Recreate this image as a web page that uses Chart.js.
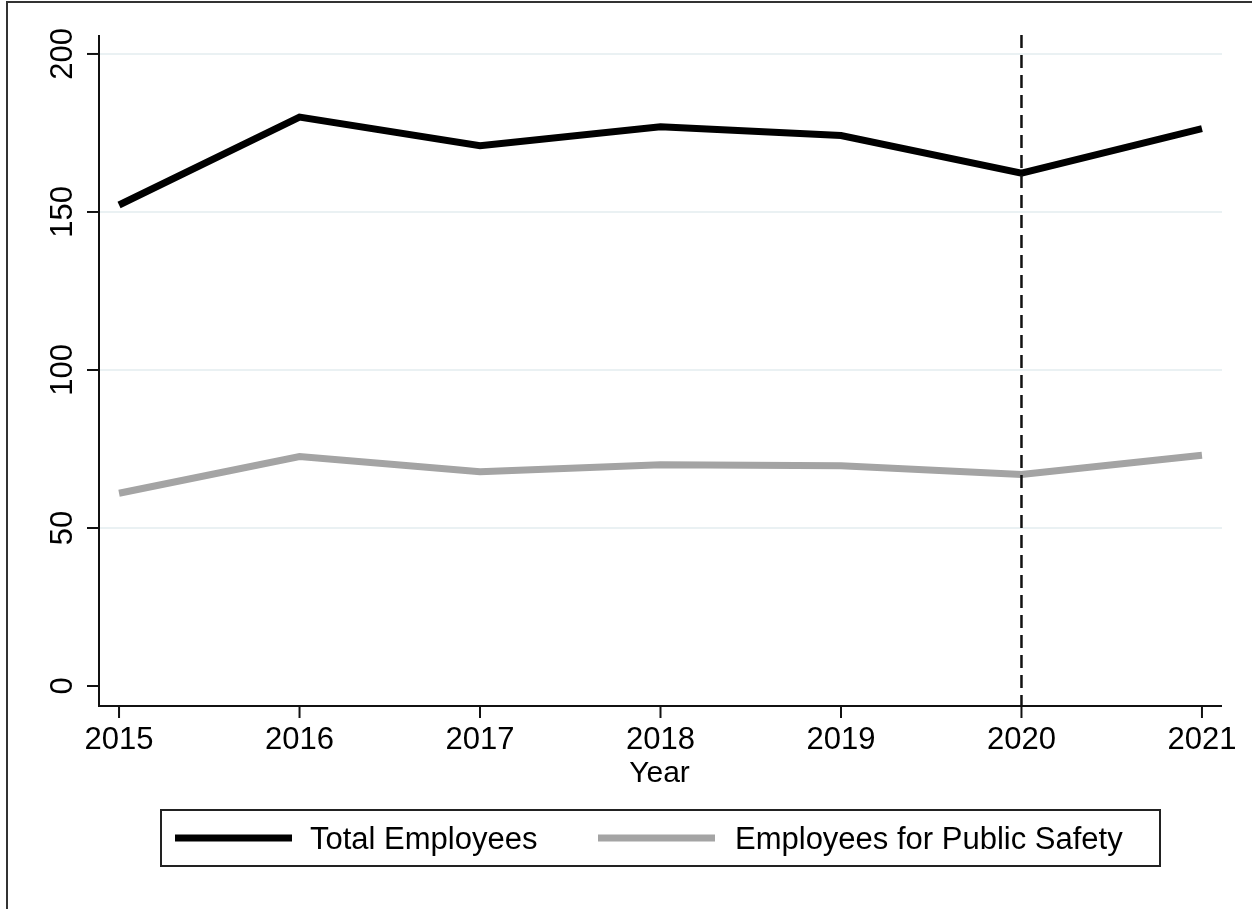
<!DOCTYPE html>
<html>
<head>
<meta charset="utf-8">
<script src="https://cdn.jsdelivr.net/npm/chart.js@4"></script>
<style>
  html, body { margin: 0; padding: 0; background: #fff; }
  #wrap { position: relative; width: 1252px; height: 909px; }
</style>
</head>
<body>
<div id="wrap"><canvas id="empChart" width="1252" height="909"></canvas></div>
<script>
// data
const years = [2015, 2016, 2017, 2018, 2019, 2020, 2021];
const totalEmployees = [152.2, 180.0, 171.0, 177.0, 174.2, 162.3, 176.4];
const publicSafety = [61.0, 72.6, 67.8, 70.0, 69.7, 66.9, 73.0];
const yTicks = [0, 50, 100, 150, 200];
const markerYear = 2020;

const FONT = '"Liberation Sans", Arial, Helvetica, sans-serif';

// custom drawing: y labels rotated, tick marks, dashed marker, x title, legend box, frame
const stataLook = {
  id: 'stataLook',
  beforeDraw(chart) {
    const c = chart.ctx;
    c.save();
    c.fillStyle = '#fff';
    c.fillRect(0, 0, chart.width, chart.height);
    // outer frame (cropped on right/bottom)
    c.strokeStyle = '#333';
    c.lineWidth = 2;
    c.strokeRect(7, 2, chart.width + 10, chart.height + 10);
    c.restore();
  },
  afterDatasetsDraw(chart) {
    const c = chart.ctx;
    const xs = chart.scales.x;
    const area = chart.chartArea;
    c.save();
    // dashed vertical line at 2020
    const mx = xs.getPixelForValue(markerYear);
    c.strokeStyle = '#111';
    c.lineWidth = 2.5;
    c.setLineDash([13, 7]);
    c.beginPath();
    c.moveTo(mx, area.top);
    c.lineTo(mx, area.bottom);
    c.stroke();
    c.setLineDash([]);
    c.restore();
  },
  afterDraw(chart) {
    const c = chart.ctx;
    const xs = chart.scales.x, ys = chart.scales.y;
    const area = chart.chartArea;
    c.save();
    c.strokeStyle = '#111';
    c.lineWidth = 2;
    // axes lines
    c.beginPath();
    c.moveTo(area.left, area.top);
    c.lineTo(area.left, area.bottom);
    c.lineTo(area.right, area.bottom);
    c.stroke();

    c.fillStyle = '#000';
    // y ticks + rotated labels
    c.font = '31px ' + FONT;
    yTicks.forEach(v => {
      const py = ys.getPixelForValue(v);
      c.beginPath();
      c.moveTo(area.left - 12, py);
      c.lineTo(area.left, py);
      c.stroke();
      c.save();
      c.translate(63, py);
      c.rotate(-Math.PI / 2);
      c.textAlign = 'center';
      c.textBaseline = 'middle';
      c.fillText(String(v), 0, 0);
      c.restore();
    });
    // x ticks + labels
    c.textAlign = 'center';
    c.textBaseline = 'middle';
    years.forEach(yr => {
      const px = xs.getPixelForValue(yr);
      c.beginPath();
      c.moveTo(px, area.bottom);
      c.lineTo(px, area.bottom + 12);
      c.stroke();
      c.fillText(String(yr), px, 740);
    });
    // x title
    c.font = '30px ' + FONT;
    c.fillText('Year', (area.left + area.right) / 2 - 1, 774);

    // legend
    const lx = 161, ly = 810, lw = 999, lh = 56;
    c.strokeStyle = '#222';
    c.lineWidth = 2;
    c.strokeRect(lx, ly, lw, lh);
    const items = [
      { x0: 175, x1: 292, tx: 310 },
      { x0: 598, x1: 715, tx: 735 }
    ];
    c.font = '31px ' + FONT;
    c.textAlign = 'left';
    chart.data.datasets.forEach((ds, i) => {
      const it = items[i];
      c.strokeStyle = ds.borderColor;
      c.lineWidth = ds.borderWidth;
      c.beginPath();
      c.moveTo(it.x0, 838);
      c.lineTo(it.x1, 838);
      c.stroke();
      c.fillStyle = '#000';
      c.fillText(ds.label, it.tx, 840);
    });
    c.restore();
  }
};

new Chart(document.getElementById('empChart'), {
  type: 'line',
  data: {
    datasets: [
      {
        label: 'Total Employees',
        data: years.map((yr, i) => ({ x: yr, y: totalEmployees[i] })),
        borderColor: '#000000',
        borderWidth: 7,
        pointRadius: 0,
        tension: 0,
        borderCapStyle: 'butt',
        borderJoinStyle: 'miter'
      },
      {
        label: 'Employees for Public Safety',
        data: years.map((yr, i) => ({ x: yr, y: publicSafety[i] })),
        borderColor: '#a4a4a4',
        borderWidth: 7,
        pointRadius: 0,
        tension: 0,
        borderCapStyle: 'butt',
        borderJoinStyle: 'miter'
      }
    ]
  },
  options: {
    responsive: false,
    animation: false,
    layout: { padding: { left: 0, top: 35, right: 30, bottom: 0 } },
    plugins: { legend: { display: false }, tooltip: { enabled: false } },
    scales: {
      x: {
        type: 'linear',
        min: 2014.889,
        max: 2021.111,
        afterFit(scale) { scale.height = 203; },
        ticks: { display: false },
        grid: { display: false, drawTicks: false },
        border: { display: false }
      },
      y: {
        min: -6.33,
        max: 206,
        afterFit(scale) { scale.width = 99; },
        ticks: { display: false, stepSize: 50, includeBounds: false },
        grid: {
          drawTicks: false,
          lineWidth: 2,
          color: ctx => (ctx.tick && ctx.tick.value > 0) ? '#eaf1f3' : 'rgba(0,0,0,0)'
        },
        border: { display: false }
      }
    }
  },
  plugins: [stataLook]
});
</script>
</body>
</html>
